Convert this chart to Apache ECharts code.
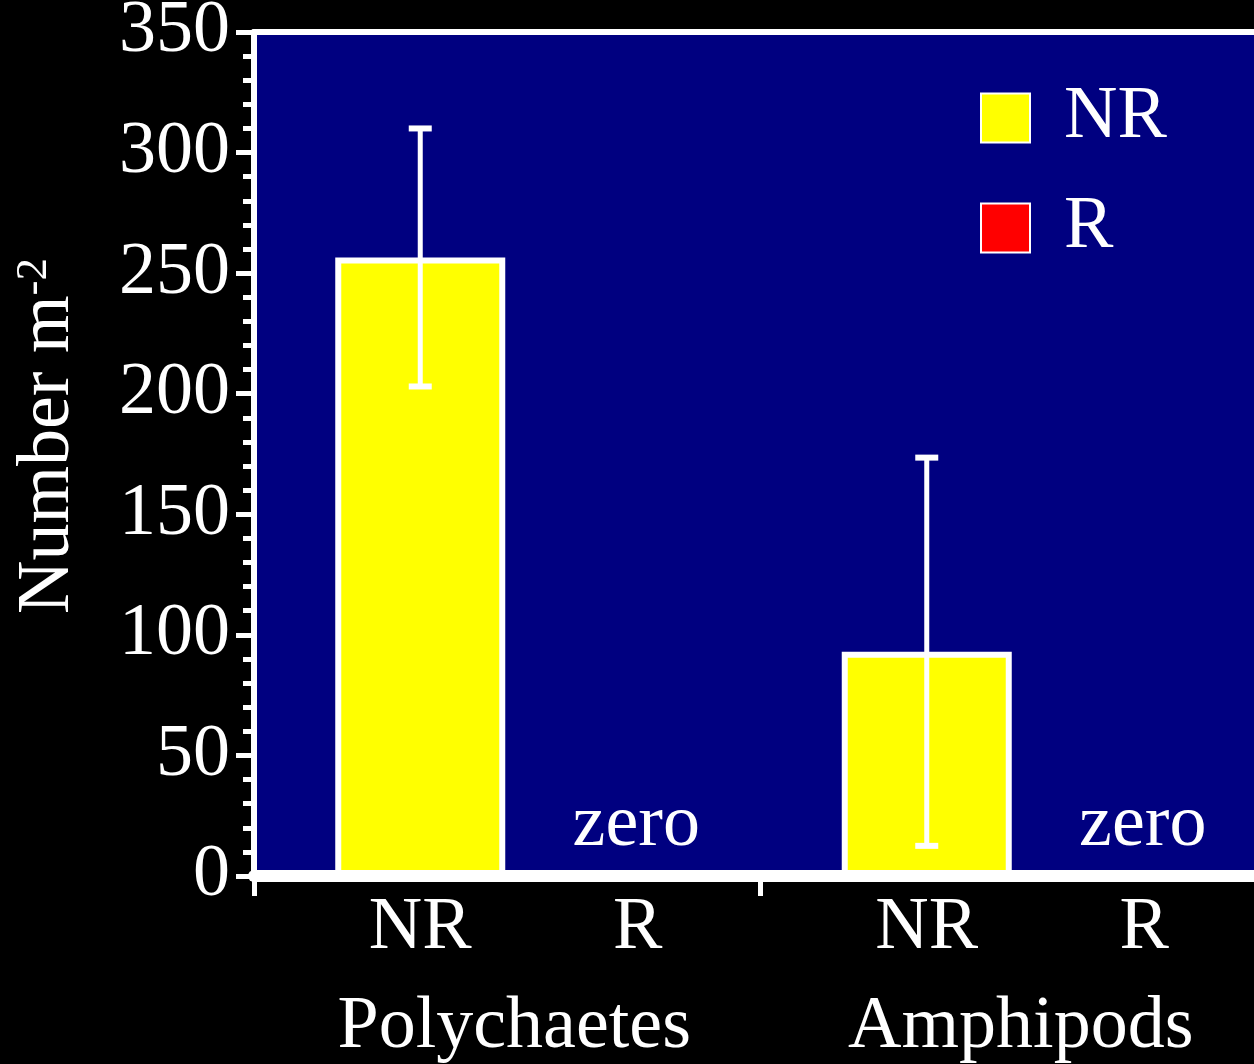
<!DOCTYPE html>
<html>
<head>
<meta charset="utf-8">
<script src="https://cdn.jsdelivr.net/npm/echarts@6/dist/echarts.min.js"></script>
<style>
  html, body { margin: 0; padding: 0; background: #000; }
  #chart { width: 1254px; height: 1064px; }
</style>
</head>
<body>
<div id="chart"></div>
<script>
// Benthic fauna densities (mean ± error) for non-raked (NR) and raked (R) plots
const groups = ['Polychaetes', 'Amphipods'];
const treatments = ['NR', 'R'];
const nrMeans = [256.5, 93];
const nrErrors = [53.5, 80.5];
const rMeans = [0, 0];
const yMin = 0;
const yMax = 350;
const yStep = 50;

const FONT = "'Liberation Serif', 'Times New Roman', serif";
const FS = 74;
const BAR_WIDTH = 170;
const BAR_GAP = 0.0235;

const chart = echarts.init(document.getElementById('chart'), null, { renderer: 'canvas' });

const errorData = groups.map((g, i) => [i, nrMeans[i] - nrErrors[i], nrMeans[i] + nrErrors[i]]);

const option = {
  backgroundColor: '#000000',
  animation: false,
  textStyle: { fontFamily: FONT },
  grid: {
    left: 254, width: 1013, top: 32, bottom: 188,
    outerBoundsMode: 'none',
    containLabel: false,
    show: true, backgroundColor: '#000080', borderWidth: 0
  },
  legend: {
    data: treatments,
    orient: 'vertical',
    left: 975, top: 69,
    padding: 5,
    itemWidth: 49, itemHeight: 49, itemGap: 22,
    icon: 'rect',
    itemStyle: { borderColor: '#ffffff', borderWidth: 2 },
    textStyle: { color: '#ffffff', fontSize: FS, fontFamily: FONT, lineHeight: 72, padding: [0, 0, 16, 29] }
  },
  xAxis: [
    {
      type: 'category',
      data: groups,
      position: 'bottom',
      z: 3,
      axisLine: { lineStyle: { color: '#ffffff', width: 12 } },
      axisTick: { show: true, length: 20, lineStyle: { color: '#ffffff', width: 5 } },
      axisLabel: {
        margin: 6,
        color: '#ffffff',
        fontFamily: FONT,
        formatter: (value) => `{nr|${treatments[0]}}{r|${treatments[1]}}\n{grp|${value}}`,
        rich: {
          nr: { fontSize: FS, fontFamily: FONT, color: '#fff', width: 261, align: 'center', lineHeight: 94 },
          r: { fontSize: FS, fontFamily: FONT, color: '#fff', width: 174, align: 'center', lineHeight: 94 },
          grp: { fontSize: FS, fontFamily: FONT, color: '#fff', lineHeight: 104, padding: [0, 0, 0, 14] }
        }
      }
    },
    {
      type: 'category',
      data: groups,
      position: 'top',
      z: 3,
      axisLine: { lineStyle: { color: '#ffffff', width: 6 } },
      axisTick: { show: false },
      axisLabel: { show: false }
    }
  ],
  yAxis: {
    type: 'value',
    min: yMin, max: yMax, interval: yStep,
    name: 'Number m{sup|-2}',
    nameLocation: 'middle',
    nameRotate: 90,
    nameGap: 168,
    nameTextStyle: {
      color: '#ffffff', fontSize: FS, fontFamily: FONT, padding: [0, 0, 0, 36],
      rich: { sup: { fontSize: 45, fontFamily: FONT, color: '#fff', verticalAlign: 'top' } }
    },
    splitLine: { show: false },
    axisLine: { show: true, lineStyle: { color: '#ffffff', width: 6 } },
    axisTick: { show: true, length: 18, lineStyle: { color: '#ffffff', width: 5 } },
    minorTick: { show: true, splitNumber: 5, length: 11, lineStyle: { color: '#ffffff', width: 5 } },
    axisLabel: { color: '#ffffff', fontSize: FS, fontFamily: FONT, margin: 24 }
  },
  series: [
    {
      name: treatments[0],
      type: 'bar',
      data: nrMeans,
      barWidth: BAR_WIDTH,
      barGap: (BAR_GAP * 100) + '%',
      itemStyle: { color: '#ffff00', borderColor: '#ffffff', borderWidth: 6 }
    },
    {
      name: treatments[1],
      type: 'bar',
      data: rMeans,
      barWidth: BAR_WIDTH,
      itemStyle: { color: '#ff0000', borderColor: '#ffffff', borderWidth: 6 },
      label: {
        show: true,
        position: 'top',
        distance: 10,
        offset: [42, 0],
        formatter: 'zero',
        color: '#ffffff',
        fontSize: FS,
        fontFamily: FONT
      }
    },
    {
      name: 'error',
      type: 'custom',
      z: 5,
      data: errorData,
      encode: { x: 0, y: [1, 2] },
      renderItem: (params, api) => {
        const cat = api.value(0);
        const low = api.coord([cat, api.value(1)]);
        const high = api.coord([cat, api.value(2)]);
        // centre of the NR bar within its category band
        const x = low[0] - (BAR_WIDTH * (1 + BAR_GAP)) / 2;
        const cap = 11.5;
        return {
          type: 'group',
          children: [
            { type: 'line', shape: { x1: x, y1: high[1], x2: x, y2: low[1] }, style: { stroke: '#fff', lineWidth: 5 } },
            { type: 'line', shape: { x1: x - cap, y1: high[1], x2: x + cap, y2: high[1] }, style: { stroke: '#fff', lineWidth: 6 } },
            { type: 'line', shape: { x1: x - cap, y1: low[1], x2: x + cap, y2: low[1] }, style: { stroke: '#fff', lineWidth: 6 } }
          ]
        };
      }
    }
  ]
};

chart.setOption(option);
</script>
</body>
</html>
